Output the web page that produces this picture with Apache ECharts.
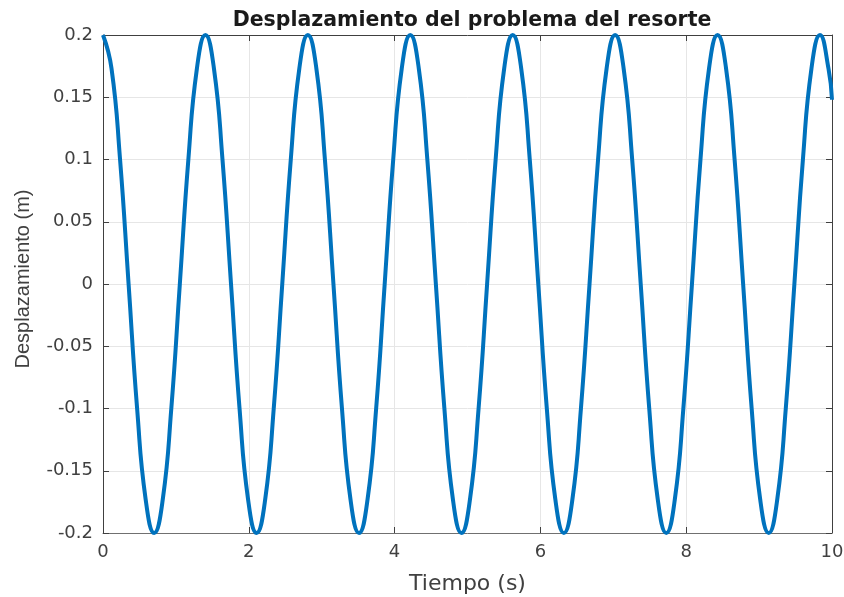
<!DOCTYPE html>
<html>
<head>
<meta charset="utf-8">
<script src="https://cdn.jsdelivr.net/npm/echarts@6/dist/echarts.min.js"></script>
<style>
  html, body { margin: 0; padding: 0; background: #fff; }
  #chart { width: 844px; height: 597px; }
</style>
</head>
<body>
<div id="chart"></div>
<script>
// tiempo (s) y desplazamiento (m)
const tiempo = [
  0, 0.117, 0.234, 0.351, 0.468, 0.585, 0.702, 0.820, 0.937, 1.054, 1.171, 1.288,
  1.405, 1.522, 1.639, 1.756, 1.873, 1.990, 2.107, 2.225, 2.342, 2.459, 2.576, 2.693,
  2.810, 2.927, 3.044, 3.161, 3.278, 3.395, 3.512, 3.629, 3.747, 3.864, 3.981, 4.098,
  4.215, 4.332, 4.449, 4.566, 4.683, 4.800, 4.917, 5.034, 5.152, 5.269, 5.386, 5.503,
  5.620, 5.737, 5.854, 5.971, 6.088, 6.205, 6.322, 6.439, 6.556, 6.674, 6.791, 6.908,
  7.025, 7.142, 7.259, 7.376, 7.493, 7.610, 7.727, 7.844, 7.961, 8.079, 8.196, 8.313,
  8.430, 8.547, 8.664, 8.781, 8.898, 9.015, 9.132, 9.249, 9.366, 9.484, 9.601, 9.718,
  9.835, 9.952, 10
];
const desplazamiento = [
  0.2, 0.173, 0.1, 0, -0.1, -0.173, -0.2, -0.173, -0.1, 0, 0.1, 0.173,
  0.2, 0.173, 0.1, 0, -0.1, -0.173, -0.2, -0.173, -0.1, 0, 0.1, 0.173,
  0.2, 0.173, 0.1, 0, -0.1, -0.173, -0.2, -0.173, -0.1, 0, 0.1, 0.173,
  0.2, 0.173, 0.1, 0, -0.1, -0.173, -0.2, -0.173, -0.1, 0, 0.1, 0.173,
  0.2, 0.173, 0.1, 0, -0.1, -0.173, -0.2, -0.173, -0.1, 0, 0.1, 0.173,
  0.2, 0.173, 0.1, 0, -0.1, -0.173, -0.2, -0.173, -0.1, 0, 0.1, 0.173,
  0.2, 0.173, 0.1, 0, -0.1, -0.173, -0.2, -0.173, -0.1, 0, 0.1, 0.173,
  0.2, 0.173, 0.148
];
const xTicks = [0, 10, 2];      // min, max, intervalo
const yTicks = [-0.2, 0.2, 0.05];

const fontFam = '"DejaVu Sans", Arial, sans-serif';
const axisGray = '#404040';

let puntos = tiempo.map((t, i) => [t, desplazamiento[i]]);

// eje secundario (caja estilo MATLAB): solo marcas, sin etiquetas
function mirrorAxis(pos, ticks) {
    return {
        type: 'value',
        position: pos,
        min: ticks[0],
        max: ticks[1],
        interval: ticks[2],
        axisLine: { show: true, onZero: false, lineStyle: { color: axisGray, width: 1 } },
        axisTick: { show: true, inside: true, length: 6, lineStyle: { color: axisGray } },
        axisLabel: { show: false },
        splitLine: { show: false }
    };
}

var chart = echarts.init(document.getElementById('chart'));
var option = {
    animation: false,
    title: {
        text: 'Desplazamiento del problema del resorte',
        left: 467,
        textAlign: 'center',
        top: 5,
        textStyle: {
            fontFamily: fontFam,
            fontSize: 20.5,
            fontWeight: 'bold',
            color: '#1a1a1a'
        }
    },
    grid: {
        left: 103,
        right: 12,
        top: 35,
        bottom: 64,
        outerBoundsMode: 'none',
        containLabel: false
    },
    xAxis: [{
        type: 'value',
        min: xTicks[0],
        max: xTicks[1],
        interval: xTicks[2],
        name: 'Tiempo (s)',
        nameLocation: 'middle',
        nameGap: 40,
        nameTextStyle: { fontFamily: fontFam, fontSize: 22, color: axisGray },
        axisLine: { onZero: false, lineStyle: { color: '#707070', width: 1 } },
        axisTick: { inside: true, length: 6, lineStyle: { color: axisGray } },
        axisLabel: { fontFamily: fontFam, fontSize: 18, color: axisGray, margin: 10 },
        splitLine: { lineStyle: { color: '#e6e6e6', width: 1 } }
    }, mirrorAxis('top', xTicks)],
    yAxis: [{
        type: 'value',
        min: yTicks[0],
        max: yTicks[1],
        interval: yTicks[2],
        name: 'Desplazamiento (m)',
        nameLocation: 'middle',
        nameGap: 70,
        nameTextStyle: {
            fontFamily: '"Liberation Sans", Arial, sans-serif',
            fontSize: 20,
            color: axisGray,
            padding: [0, 0, 0, 10]
        },
        axisLine: { show: true, onZero: false, lineStyle: { color: axisGray, width: 1 } },
        axisTick: { show: true, inside: true, length: 6, lineStyle: { color: axisGray } },
        axisLabel: { fontFamily: fontFam, fontSize: 18, color: axisGray, margin: 10 },
        splitLine: { lineStyle: { color: '#e6e6e6', width: 1 } }
    }, mirrorAxis('right', yTicks)],
    series: [{
        type: 'line',
        data: puntos,
        smooth: 0.5,
        showSymbol: false,
        lineStyle: { color: '#0072BD', width: 4 },
        clip: false
    }]
};
chart.setOption(option);
</script>
</body>
</html>
